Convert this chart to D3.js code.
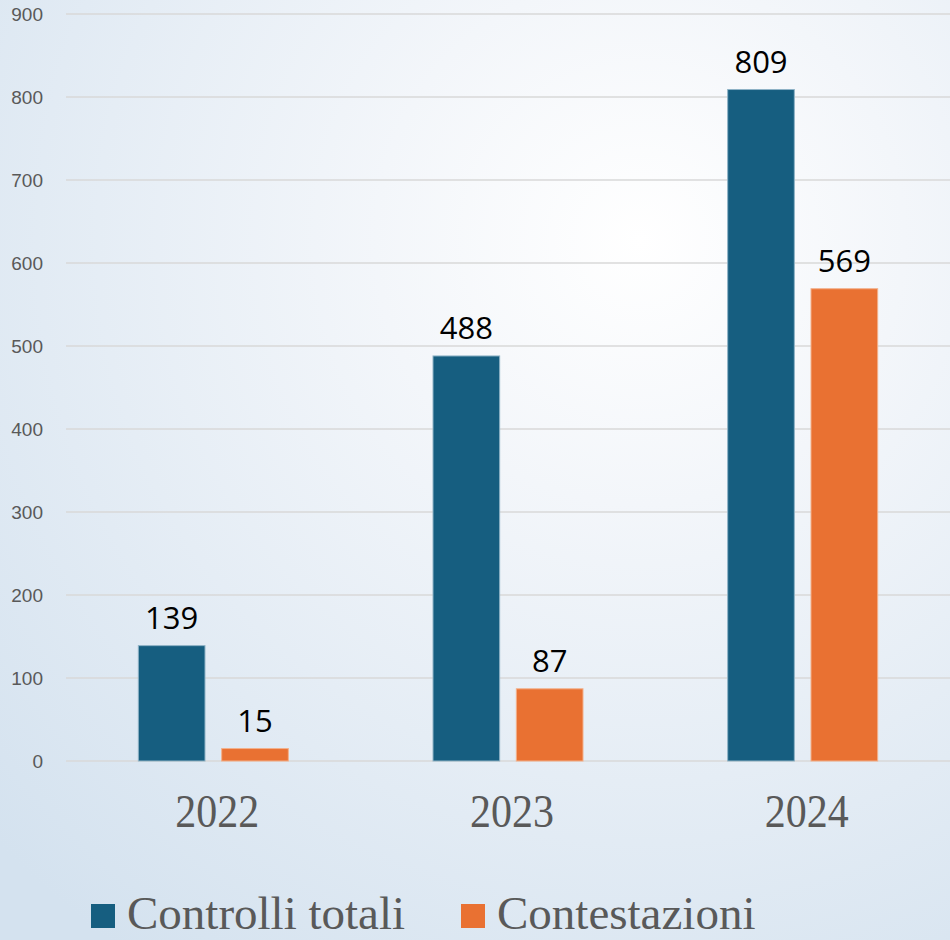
<!DOCTYPE html>
<html>
<head>
<meta charset="utf-8">
<script src="https://cdn.jsdelivr.net/npm/d3@7"></script>
<style>
  html, body { margin: 0; padding: 0; }
  body { width: 950px; height: 940px; overflow: hidden; }
</style>
</head>
<body>
<div id="chart"></div>
<script>
const width = 950;
const height = 940;

// Dati
const years = ['2022', '2023', '2024'];
const seriesNames = ['Controlli totali', 'Contestazioni'];
const controlliTotali = [139, 488, 809];
const contestazioni = [15, 87, 569];
const yTicks = [0, 100, 200, 300, 400, 500, 600, 700, 800, 900];

const colors = { 'Controlli totali': '#165e80', 'Contestazioni': '#e97132' };
const strokes = { 'Controlli totali': '#8fb3c6', 'Contestazioni': '#f3b08a' };

const rows = years.map((y, i) => ({
  year: y,
  values: [
    { key: 'Controlli totali', value: controlliTotali[i] },
    { key: 'Contestazioni', value: contestazioni[i] }
  ]
}));

const margin = { left: 66, right: 0, top: 14, bottom: 179 };

const svg = d3.select('#chart')
  .append('svg')
  .attr('width', width)
  .attr('height', height);

// Sfondo sfumato
const defs = svg.append('defs');
const bg = defs.append('radialGradient')
  .attr('id', 'bg-grad')
  .attr('gradientUnits', 'userSpaceOnUse')
  .attr('cx', 640).attr('cy', 240).attr('r', 880);
bg.append('stop').attr('offset', '0%').attr('stop-color', '#ffffff');
bg.append('stop').attr('offset', '30%').attr('stop-color', '#f3f6fa');
bg.append('stop').attr('offset', '100%').attr('stop-color', '#d4e2ef');

svg.append('rect')
  .attr('width', width)
  .attr('height', height)
  .attr('fill', 'url(#bg-grad)');

const x0 = d3.scaleBand()
  .domain(years)
  .range([margin.left, width - margin.right])
  .paddingInner(0)
  .paddingOuter(0);

const x1 = d3.scaleBand()
  .domain(seriesNames)
  .range([0, 150])
  .paddingInner(0.2);

const y = d3.scaleLinear()
  .domain([0, 900])
  .range([height - margin.bottom, margin.top]);

// Griglia
svg.append('g')
  .selectAll('line')
  .data(yTicks)
  .enter()
  .append('line')
  .attr('x1', margin.left)
  .attr('x2', width)
  .attr('y1', d => y(d))
  .attr('y2', d => y(d))
  .attr('stroke', '#d9d9d9')
  .attr('stroke-width', 1.5);

// Etichette asse Y
svg.append('g')
  .selectAll('text')
  .data(yTicks)
  .enter()
  .append('text')
  .attr('x', 43)
  .attr('y', d => y(d) + 7)
  .attr('text-anchor', 'end')
  .attr('font-family', 'Liberation Sans, Arial, sans-serif')
  .attr('font-size', '19px')
  .attr('fill', '#595959')
  .text(d => d);

// Barre
const groups = svg.append('g')
  .selectAll('g')
  .data(rows)
  .enter()
  .append('g')
  .attr('transform', d => `translate(${x0(d.year) + (x0.bandwidth() - 150) / 2},0)`);

groups.selectAll('rect')
  .data(d => d.values)
  .enter()
  .append('rect')
  .attr('x', d => x1(d.key))
  .attr('y', d => y(d.value))
  .attr('width', x1.bandwidth())
  .attr('height', d => y(0) - y(d.value))
  .attr('fill', d => colors[d.key])
  .attr('stroke', d => strokes[d.key])
  .attr('stroke-width', 1);

groups.selectAll('text')
  .data(d => d.values)
  .enter()
  .append('text')
  .attr('x', d => x1(d.key) + x1.bandwidth() / 2)
  .attr('y', d => y(d.value) - 17)
  .attr('text-anchor', 'middle')
  .attr('font-family', 'Open Sans, sans-serif')
  .attr('font-size', '31px')
  .attr('fill', '#000')
  .text(d => d.value);

// Etichette anni (serif, leggermente allungate in verticale)
svg.append('g')
  .selectAll('text')
  .data(years)
  .enter()
  .append('text')
  .attr('transform', d => `translate(${x0(d) + x0.bandwidth() / 2 + 4},827) scale(1,1.1)`)
  .attr('text-anchor', 'middle')
  .attr('font-family', 'Liberation Serif, Times New Roman, serif')
  .attr('font-size', '42px')
  .attr('fill', '#595959')
  .text(d => d);

// Legenda
const legendPos = [91, 461];
const legend = svg.append('g')
  .selectAll('g')
  .data(seriesNames)
  .enter()
  .append('g')
  .attr('transform', (d, i) => `translate(${legendPos[i]},904)`);

legend.append('rect')
  .attr('width', 24)
  .attr('height', 24)
  .attr('fill', d => colors[d]);

legend.append('text')
  .attr('x', 36)
  .attr('y', 25)
  .attr('font-family', 'Liberation Serif, Times New Roman, serif')
  .attr('font-size', '47px')
  .attr('fill', '#595959')
  .text(d => d);
</script>
</body>
</html>
